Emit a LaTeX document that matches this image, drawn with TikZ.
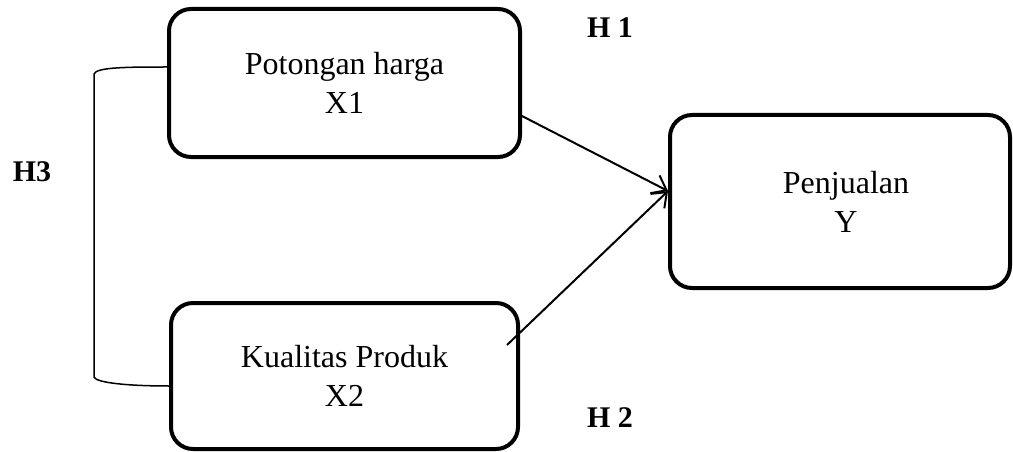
\documentclass[tikz,border=0pt]{standalone}
\usepackage{fontspec}
\setmainfont{Liberation Serif}
\usetikzlibrary{arrows.meta}
\begin{document}
\begin{tikzpicture}[x=1pt,y=-1pt,
  varbox/.style={draw=black, line width=4pt, rounded corners=22pt, align=center,
    font=\fontsize{32}{39}\selectfont, inner sep=0pt},
  hlabel/.style={font=\fontsize{30}{36}\selectfont\bfseries, inner sep=0pt},
  link/.style={line width=2pt, -{Straight Barb[length=13pt,width=20pt,line width=2pt]}},
  bracket/.style={line width=1.5pt}]
\useasboundingbox (0,0) rectangle (1013,452);
\node[varbox, minimum width=351pt, minimum height=148pt] (x1) at (344.5,83) {Potongan harga\\X1};
\node[varbox, minimum width=347pt, minimum height=146pt] (x2) at (344.5,376) {Kualitas Produk\\X2};
\node[varbox, minimum width=340pt, minimum height=173pt] (y) at (840,201.5) {\hspace*{12pt}Penjualan\\\hspace*{12pt}Y};
\node[hlabel] (h1) at (610,28) {H 1};
\node[hlabel] (h2) at (610,418) {H 2};
\node[hlabel] (h3) at (32,172) {H3};
\coordinate (a1) at (520,115);
\coordinate (a2) at (507,345);
\coordinate (tip) at (668,191);
\coordinate (b1) at (x1.west |- 0,67);
\coordinate (b2) at (x2.west |- 0,386);
\draw[link] (a1) -- (tip);
\draw[link] (a2) -- (tip);
\draw[bracket] (b1) .. controls (130,67) and (96,67) .. (94,74) -- (94,377) .. controls (96,383) and (130,386) .. (b2);
\end{tikzpicture}
\end{document}
